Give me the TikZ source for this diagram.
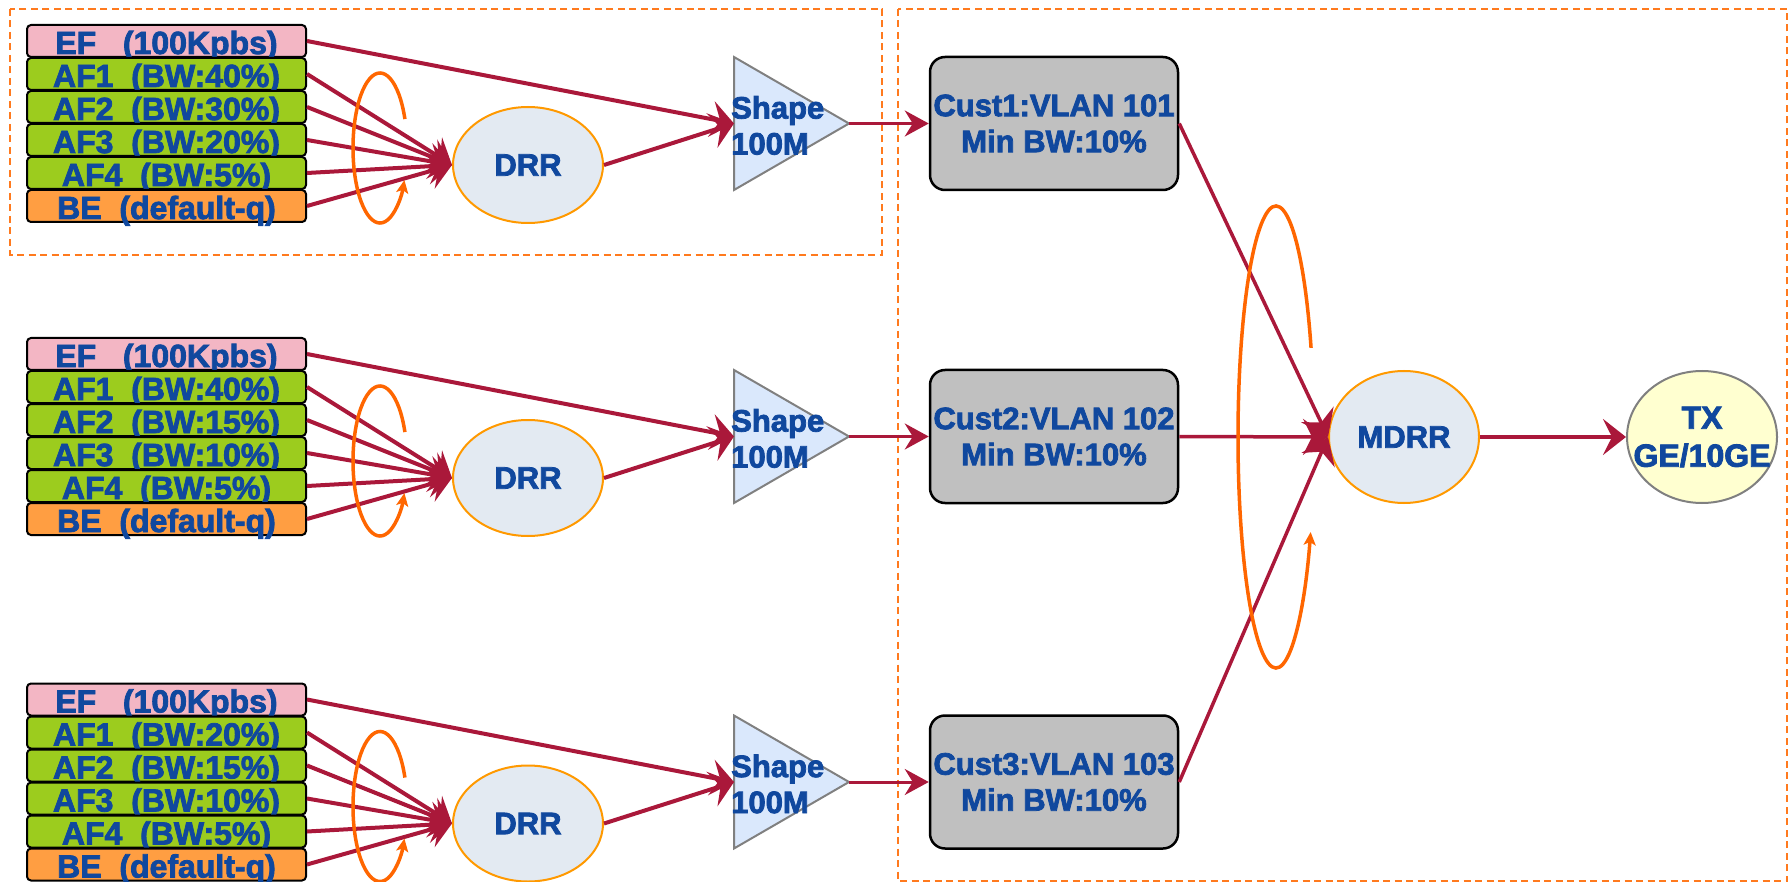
\documentclass[tikz,border=0pt]{standalone}
\usepackage{fontspec}
\setmainfont{Liberation Sans}[BoldFeatures={FakeBold=2.5}]
\usetikzlibrary{arrows.meta,shapes.geometric}

\definecolor{txtblue}{RGB}{16,72,158}
\definecolor{flowred}{RGB}{170,24,58}
\definecolor{loopor}{RGB}{255,102,0}
\definecolor{boxor}{RGB}{255,122,30}
\definecolor{rimor}{RGB}{255,153,0}
\definecolor{efpink}{RGB}{243,182,196}
\definecolor{afdark}{RGB}{156,204,30}
\definecolor{aflight}{RGB}{190,230,96}
\definecolor{bedark}{RGB}{255,158,66}
\definecolor{belight}{RGB}{255,190,120}
\definecolor{drrfill}{RGB}{227,234,242}
\definecolor{trifill}{RGB}{218,232,252}
\definecolor{custfill}{RGB}{192,192,192}
\definecolor{txfill}{RGB}{255,255,208}

\begin{document}
\begin{tikzpicture}[x=1pt,y=-1pt,
  lbl/.style={font=\fontsize{31}{36}\selectfont\bfseries, text=txtblue},
  qrow/.style={lbl, font=\fontsize{32}{36}\selectfont\bfseries,
    draw=black, line width=2pt, rounded corners=4pt,
    minimum width=279pt, minimum height=32pt, inner sep=0pt,
    text height=29pt, text depth=3pt},
  afrow/.style={top color=afdark, middle color=aflight, bottom color=afdark},
  berow/.style={top color=bedark, middle color=belight, bottom color=bedark},
  drrnode/.style={lbl, ellipse, draw=rimor, line width=2pt, fill=drrfill,
    minimum width=150pt, minimum height=116pt, inner sep=0pt},
  mdrrnode/.style={lbl, ellipse, draw=rimor, line width=2pt, fill=drrfill,
    minimum width=150pt, minimum height=132pt, inner sep=0pt},
  txnode/.style={lbl, font=\fontsize{32}{38}\selectfont\bfseries, ellipse,
    draw=gray, line width=2pt, fill=txfill, align=center,
    minimum width=150pt, minimum height=132pt, inner sep=-30pt},
  shapetri/.style={draw=gray, line width=2pt, fill=trifill},
  custbox/.style={lbl, draw=black, line width=2.5pt, fill=custfill,
    rounded corners=15pt, minimum width=248pt, minimum height=133pt,
    inner sep=0pt, align=center},
  flow/.style={draw=flowred, line width=4pt,
    -{Stealth[length=23pt,width=36pt,inset=9pt]}},
  flowthin/.style={draw=flowred, line width=3pt,
    -{Stealth[length=24pt,width=26pt,inset=8pt]}},
  flowmid/.style={draw=flowred, line width=3.5pt,
    -{Stealth[length=25pt,width=36pt,inset=9pt]}},
  loopline/.style={draw=loopor, line width=3.5pt,
    -{Stealth[length=13pt,width=12pt,inset=3pt]}},
  dashbox/.style={draw=boxor, line width=2pt, dash pattern=on 7pt off 4.5pt}
]
\useasboundingbox (0,0) rectangle (1788,882);

% group frames
\draw[dashbox] (10,9) rectangle (882,255);
\draw[dashbox] (898,9) rectangle (1787,881);

% three customer schedulers, each with six class queues
\foreach \g/\yo/\pa/\pb/\pc/\vl in {1/123.5/40/30/20/101, 2/436.5/40/15/10/102, 3/782/20/15/10/103}{
  \begin{scope}[shift={(0,\yo)}]
    \node[qrow, fill=efpink] (r\g-0) at (166.5,-82.5) {EF\ \ \ (100Kpbs)};
    \node[qrow, afrow] (r\g-1) at (166.5,-49.5) {AF1\ \ (BW:\pa\%)};
    \node[qrow, afrow] (r\g-2) at (166.5,-16.5) {AF2\ \ (BW:\pb\%)};
    \node[qrow, afrow] (r\g-3) at (166.5,16.5) {AF3\ \ (BW:\pc\%)};
    \node[qrow, afrow] (r\g-4) at (166.5,49.5) {AF4\ \ (BW:5\%)};
    \node[qrow, berow] (r\g-5) at (166.5,82.5) {BE\ \ (default-q)};
    \node[drrnode] (drr\g) at (528,41.5) {DRR};
    \draw[shapetri] (734,-66.5) -- (849,0) -- (734,66.5) -- cycle;
    \coordinate (tw\g) at (734,0);
    \coordinate (tip\g) at (849,0);
    \node[lbl, align=left, anchor=west, inner sep=0pt] (shl\g) at (731,2) {Shape\\100M};
    \node[custbox] (cust\g) at (1054,0) {Cust\g:VLAN \vl\\Min BW:10\%};
    \coordinate (lc\g) at (380,24.5);
  \end{scope}
  \draw[flow] (r\g-0.east) -- (tw\g);
  \foreach \r in {1,...,5}{
    \draw[flow] (r\g-\r.east) -- (drr\g.west);
  }
  \draw[flow] (drr\g.east) -- (tw\g);
  \draw[flowthin] (tip\g) -- (cust\g.west);
  \draw[loopline] (lc\g) ++(-22.7:27 and 75)
    arc[start angle=-22.7, end angle=-334.7, x radius=27, y radius=75];
}

% port scheduler and transmitter
\node[mdrrnode] (mdrr) at (1404,437) {MDRR};
\node[txnode] (tx) at (1702,437) {TX\\GE/10GE};

\foreach \g in {1,2,3}{
  \draw[flowmid] (cust\g.east) -- (mdrr.west);
}
\draw[flow] (mdrr.east) -- (tx.west);

\coordinate (bigc) at (1276,437);
\draw[loopline] (bigc) ++(-22.7:38 and 231)
  arc[start angle=-22.7, end angle=-335.7, x radius=38, y radius=231];
\end{tikzpicture}
\end{document}
